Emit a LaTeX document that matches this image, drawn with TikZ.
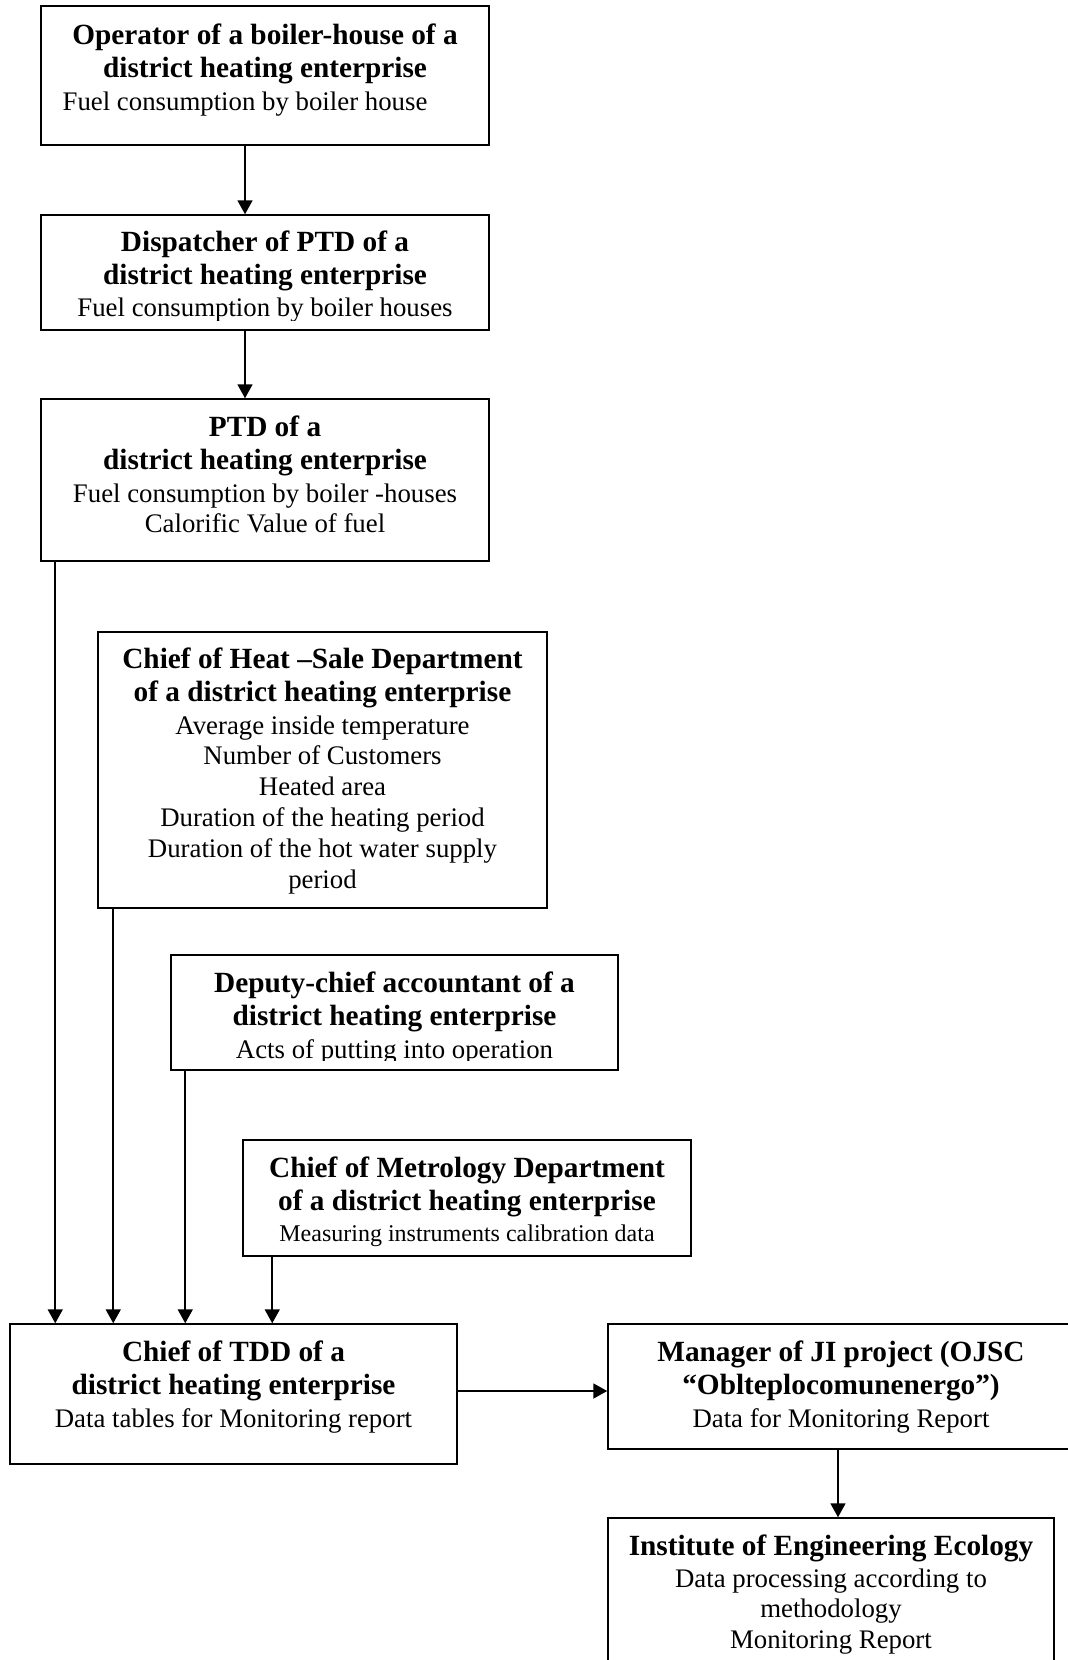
\documentclass[tikz,border=0pt]{standalone}
\usepackage{fontspec}
\setmainfont{Liberation Serif}
\usetikzlibrary{arrows.meta,fit}
\begin{document}
\begin{tikzpicture}[x=1pt,y=-1pt,
  box/.style={draw, line width=1.5pt, inner sep=0pt},
  ttl/.style={anchor=north, align=center, inner sep=0pt, font=\fontsize{29.3}{33.6}\selectfont\bfseries},
  bdy/.style={anchor=north, align=center, inner sep=0pt, font=\fontsize{26.8}{30.8}\selectfont},
  sbdy/.style={anchor=north, align=center, inner sep=0pt, font=\fontsize{24}{27.6}\selectfont},
  arr/.style={line width=1.8pt, -{Triangle[length=14pt,width=15pt]}}]
\useasboundingbox (0,0) rectangle (1068,1660);
\clip (0,0) rectangle (1068,1660);
\fill[white] (0,0) rectangle (1068,1660);
% boxes
\node[box, fit={(41,6) (489,145)}] (b1) {};
\node[box, fit={(41,215) (489,330)}] (b2) {};
\node[box, fit={(41,399) (489,561)}] (b3) {};
\node[box, fit={(98,632) (547,908)}] (b4) {};
\node[box, fit={(171,955) (618,1070)}] (b5) {};
\node[box, fit={(243,1140) (691,1256)}] (b6) {};
\node[box, fit={(10,1324) (457,1464)}] (b7) {};
\node[box, fit={(608,1324) (1074,1449)}] (b8) {};
\node[box, fit={(608,1518) (1054,1700)}] (b9) {};
% texts
\node[ttl] (t1) at (265,20.5) {\strut Operator of a boiler-house of a\\district heating enterprise};
\node[bdy] (d1) at (245,88.4) {\strut Fuel consumption by boiler house};
\node[ttl] (t2) at (265,227.5) {\strut Dispatcher of PTD of a\\district heating enterprise};
\begin{scope}
\clip (41,215) rectangle (489,320);
\node[bdy] (d2) at (265,294.4) {\strut Fuel consumption by boiler houses};
\end{scope}
\node[ttl] (t3) at (265,412.5) {\strut PTD of a\\district heating enterprise};
\node[bdy] (d3) at (265,480.4) {\strut Fuel consumption by boiler -houses\\Calorific Value of fuel};
\node[ttl] (t4) at (322.5,644.5) {\strut Chief of Heat \textendash Sale Department\\of a district heating enterprise};
\node[bdy] (d4) at (322.5,712.4) {\strut Average inside temperature\\Number of Customers\\Heated area\\Duration of the heating period\\Duration of the hot water supply\\period};
\node[ttl] (t5) at (394.5,968.5) {\strut Deputy-chief accountant of a\\district heating enterprise};
\begin{scope}
\clip (171,955) rectangle (618,1060);
\node[bdy] (d5) at (394.5,1036.4) {\strut Acts of putting into operation};
\end{scope}
\node[ttl] (t6) at (467,1153.5) {\strut Chief of Metrology Department\\of a district heating enterprise};
\node[sbdy] (d6) at (467,1221.7) {\strut Measuring instruments calibration data};
\node[ttl] (t7) at (233.5,1337.5) {\strut Chief of TDD of a\\district heating enterprise};
\node[bdy] (d7) at (233.5,1405.4) {\strut Data tables for Monitoring report};
\node[ttl] (t8) at (841,1337.5) {\strut Manager of JI project (OJSC\\\textquotedblleft Oblteplocomunenergo\textquotedblright)};
\node[bdy] (d8) at (841,1405.4) {\strut Data for Monitoring Report};
\node[ttl] (t9) at (831,1531.5) {\strut Institute of Engineering Ecology};
\node[bdy] (d9) at (831,1565.4) {\strut Data processing according to\\methodology\\Monitoring Report};
% connectors
\draw[arr] ([xshift=-20pt]b1.south) -- ([xshift=-20pt]b2.north);
\draw[arr] ([xshift=-20pt]b2.south) -- ([xshift=-20pt]b3.north);
\draw[arr] ([xshift=15pt]b3.south west) -- ([xshift=46pt]b7.north west);
\draw[arr] ([xshift=16pt]b4.south west) -- ([xshift=104pt]b7.north west);
\draw[arr] ([xshift=15pt]b5.south west) -- ([xshift=176pt]b7.north west);
\draw[arr] ([xshift=30pt]b6.south west) -- ([xshift=263pt]b7.north west);
\draw[arr] (b7.east |- 0,1391) -- (b8.west |- 0,1391);
\draw[arr] ([xshift=-3pt]b8.south) -- ([xshift=7pt]b9.north);
\end{tikzpicture}
\end{document}
